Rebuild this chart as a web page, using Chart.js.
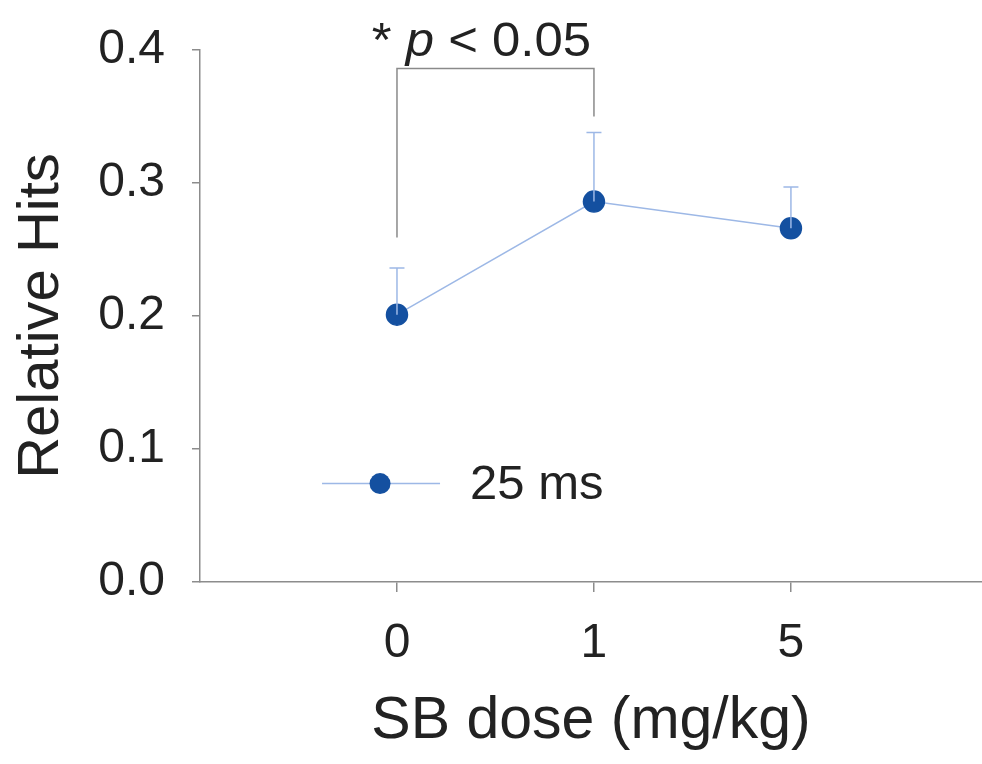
<!DOCTYPE html>
<html>
<head>
<meta charset="utf-8">
<script src="https://cdn.jsdelivr.net/npm/chart.js@4.4.1/dist/chart.umd.min.js"></script>
<style>
  html, body { margin: 0; padding: 0; background: #fff; }
  #wrap { width: 982px; height: 764px; }
</style>
</head>
<body>
<div id="wrap"><canvas id="myChart" width="982" height="764"></canvas></div>
<script>
// dose groups (positions 0,1,2 on the x axis) and their labels
const doseLabels = ['0', '1', '5'];
const doseIndex = [0, 1, 2];
const relHits = [0.201, 0.286, 0.266];
const relHitsSem = [0.035, 0.052, 0.031];
const yTicks = [0.0, 0.1, 0.2, 0.3, 0.4];

// significance bracket between dose 0 and dose 1
const bracket = { from: 0, to: 1, leftFoot: 0.259, rightFoot: 0.350, top: 0.386 };
const sigText = ['* ', 'p', ' < 0.05'];

const FONT = '"Liberation Sans", Arial, sans-serif';
const TEXT = '#222222';
const AXIS = '#8c8c8c';
const MARKER = '#1450a0';
const LINE = '#9db8e6';

const errorBars = {
  id: 'errorBars',
  afterDatasetsDraw(chart) {
    const { ctx, scales: { x, y } } = chart;
    ctx.save();
    ctx.strokeStyle = LINE;
    ctx.lineWidth = 1.5;
    doseIndex.forEach((d, i) => {
      const px = x.getPixelForValue(d);
      const y0 = y.getPixelForValue(relHits[i]);
      const y1 = y.getPixelForValue(relHits[i] + relHitsSem[i]);
      ctx.beginPath();
      ctx.moveTo(px, y0);
      ctx.lineTo(px, y1);
      ctx.moveTo(px - 7.5, y1);
      ctx.lineTo(px + 7.5, y1);
      ctx.stroke();
    });
    ctx.restore();
  }
};

const annotations = {
  id: 'annotations',
  beforeDatasetsDraw(chart) {
    const { ctx, scales: { x, y } } = chart;
    ctx.save();
    // bracket
    ctx.strokeStyle = '#8a8a8a';
    ctx.lineWidth = 1.5;
    const xl = x.getPixelForValue(bracket.from);
    const xr = x.getPixelForValue(bracket.to);
    ctx.beginPath();
    ctx.moveTo(xl, y.getPixelForValue(bracket.leftFoot));
    ctx.lineTo(xl, y.getPixelForValue(bracket.top));
    ctx.lineTo(xr, y.getPixelForValue(bracket.top));
    ctx.lineTo(xr, y.getPixelForValue(bracket.rightFoot));
    ctx.stroke();

    // "* p < 0.05", a bit wider than the bracket
    ctx.fillStyle = TEXT;
    ctx.textBaseline = 'alphabetic';
    const fonts = ['48px ' + FONT, 'italic 48px ' + FONT, '48px ' + FONT];
    let total = 0;
    sigText.forEach((t, i) => { ctx.font = fonts[i]; total += ctx.measureText(t).width; });
    const sx = 1.06;
    let tx = (xl + xr) / 2 - (total * sx) / 2 - 14;
    const ty = y.getPixelForValue(bracket.top) - 13;
    sigText.forEach((t, i) => {
      ctx.font = fonts[i];
      ctx.save();
      ctx.translate(tx, ty);
      ctx.scale(sx, 1);
      ctx.fillText(t, 0, 0);
      ctx.restore();
      tx += ctx.measureText(t).width * sx;
    });

    // legend
    const ly = y.getPixelForValue(0.074);
    const lx = x.getPixelForValue(-0.086);
    ctx.strokeStyle = LINE;
    ctx.lineWidth = 1.5;
    ctx.beginPath();
    ctx.moveTo(lx - 58, ly);
    ctx.lineTo(lx + 60, ly);
    ctx.stroke();
    ctx.fillStyle = MARKER;
    ctx.beginPath();
    ctx.arc(lx, ly, 10.5, 0, Math.PI * 2);
    ctx.fill();
    ctx.fillStyle = TEXT;
    ctx.font = '49px ' + FONT;
    ctx.textBaseline = 'middle';
    ctx.fillText('25 ms', lx + 90, ly + 2);
    ctx.restore();
  }
};

const ctx = document.getElementById('myChart').getContext('2d');
new Chart(ctx, {
  type: 'line',
  data: {
    datasets: [{
      label: '25 ms',
      data: doseIndex.map((d, i) => ({ x: d, y: relHits[i] })),
      borderColor: LINE,
      borderWidth: 1.5,
      pointBackgroundColor: MARKER,
      pointBorderColor: MARKER,
      pointRadius: 10.5,
      fill: false
    }]
  },
  options: {
    responsive: false,
    animation: false,
    layout: { autoPadding: false, padding: { top: 50, right: 0, left: 0, bottom: 0 } },
    plugins: { legend: { display: false }, tooltip: { enabled: false } },
    scales: {
      x: {
        type: 'linear',
        min: -1,
        max: 2.97,
        afterBuildTicks(axis) { axis.ticks = doseIndex.map(v => ({ value: v })); },
        afterFit(axis) {
          axis.height = 182;
          axis.paddingLeft = 0;
          axis.paddingRight = 0;
        },
        border: { color: AXIS, width: 1.5 },
        grid: { drawOnChartArea: false, color: AXIS, tickLength: 10, lineWidth: 1.5 },
        ticks: {
          color: TEXT,
          font: { family: FONT, size: 48 },
          padding: 23,
          maxRotation: 0,
          callback: (v) => doseLabels[doseIndex.indexOf(v)]
        },
        title: {
          display: true,
          text: 'SB dose (mg/kg)',
          color: TEXT,
          font: { family: FONT, size: 59 },
          padding: { top: 0, bottom: 7 }
        }
      },
      y: {
        min: 0,
        max: 0.4,
        afterBuildTicks(axis) { axis.ticks = yTicks.map(v => ({ value: v })); },
        afterFit(axis) {
          axis.width = 200;
          axis.paddingTop = 0;
          axis.paddingBottom = 0;
        },
        border: { color: AXIS, width: 1.5 },
        grid: { drawOnChartArea: false, color: AXIS, tickLength: 8, lineWidth: 1.5 },
        ticks: {
          color: TEXT,
          font: { family: FONT, size: 48 },
          padding: 27,
          callback: (v) => v.toFixed(1)
        },
        title: {
          display: true,
          text: 'Relative Hits',
          color: TEXT,
          font: { family: FONT, size: 58 },
          padding: { top: 7, bottom: 0 }
        }
      }
    }
  },
  plugins: [annotations, errorBars]
});
</script>
</body>
</html>
